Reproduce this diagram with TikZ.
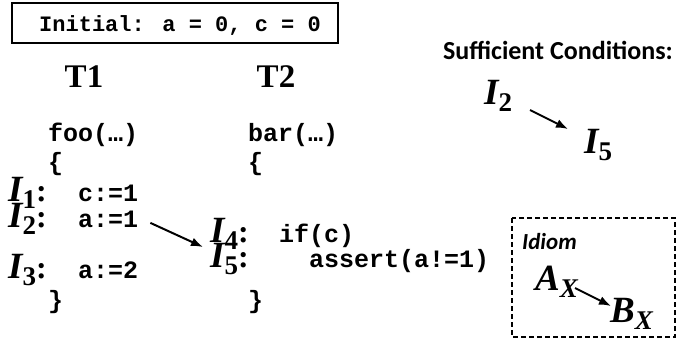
\documentclass[tikz,border=0pt]{standalone}
\usepackage{fontspec}
\setmainfont{Liberation Serif}
\newfontfamily\codefont{Liberation Mono}
\newfontfamily\carlito{Carlito}
\usetikzlibrary{arrows.meta}
\newcommand{\bigI}[2]{{\fontsize{37}{37}\selectfont\bfseries\itshape #1}\raisebox{-7pt}{\fontsize{27}{27}\selectfont\bfseries #2}}
\newcommand{\Ilab}[1]{\bigI{I}{#1}}
\newcommand{\Icol}[1]{\bigI{I}{#1}{\fontsize{32}{32}\selectfont\bfseries :}}
\tikzset{
  code/.style={inner sep=0pt, anchor=base west, font=\codefont\bfseries\fontsize{25}{25}\selectfont},
  lab/.style={inner sep=0pt, anchor=base west},
  thread/.style={inner sep=0pt, anchor=base, font=\bfseries\fontsize{33}{33}\selectfont},
  dep/.style={-{Latex[length=12pt,width=9pt]}, line width=2pt},
}
\begin{document}
\begin{tikzpicture}[x=1pt,y=-1pt]
\useasboundingbox (0,0) rectangle (676,343);
% initial box
\node[draw, line width=1.2pt, minimum width=326pt, minimum height=40pt, inner sep=0pt] (init) at (175,23) {};
\node[code, font=\codefont\bfseries\fontsize{22}{22}\selectfont] (inittxt) at (39,31) {Initial: a = 0, c = 0};
% thread headers
\node[thread] (t1) at (84,87) {T1};
\node[thread] (t2) at (276,87) {T2};
% T1 code
\node[code] (foo) at (48,141) {foo(…)};
\node[code] (lb1) at (48,170) {\{};
\node[lab] (i1) at (8,201) {\Icol{1}};
\node[code] (c1) at (78,201) {c:=1};
\node[lab] (i2) at (8,227) {\Icol{2}};
\node[code] (a1) at (78,227) {a:=1};
\node[lab] (i3) at (8,278) {\Icol{3}};
\node[code] (a2) at (78,278) {a:=2};
\node[code] (rb1) at (48,308) {\}};
% T2 code
\node[code] (bar) at (248,141) {bar(…)};
\node[code] (lb2) at (248,170) {\{};
\node[lab] (i4) at (210,242) {\Icol{4}};
\node[code] (ifc) at (279,242) {if(c)};
\node[lab] (i5) at (210,267) {\Icol{5}};
\node[code] (asrt) at (309,267) {assert(a!=1)};
\node[code] (rb2) at (248,308) {\}};
% arrow
\draw[dep] (a1.east) ++(12,4) coordinate (s1) -- (203,247) coordinate (e1);
% sufficient conditions
\node[lab, anchor=base east, font=\carlito\bfseries\fontsize{26}{26}\selectfont] (suff) at (673,59) {Sufficient Conditions:};
\node[lab] (si2) at (484,104) {\Ilab{2}};
\node[lab] (si5) at (584,153) {\Ilab{5}};
\draw[dep] (530,110) coordinate (s2) -- (568,129) coordinate (e2);
% idiom
\draw[line width=1.2pt, dash pattern=on 5pt off 3pt] (512,218) rectangle (675,337);
\node[lab, font=\carlito\bfseries\itshape\fontsize{23}{23}\selectfont] (idiom) at (522,249) {Idiom};
\node[lab] (ax) at (535,290) {\bigI{A}{\itshape X}};
\node[lab] (bx) at (610,322) {\bigI{B}{\itshape X}};
\draw[dep] (575,288) coordinate (s3) -- (611,306) coordinate (e3);
\end{tikzpicture}
\end{document}
